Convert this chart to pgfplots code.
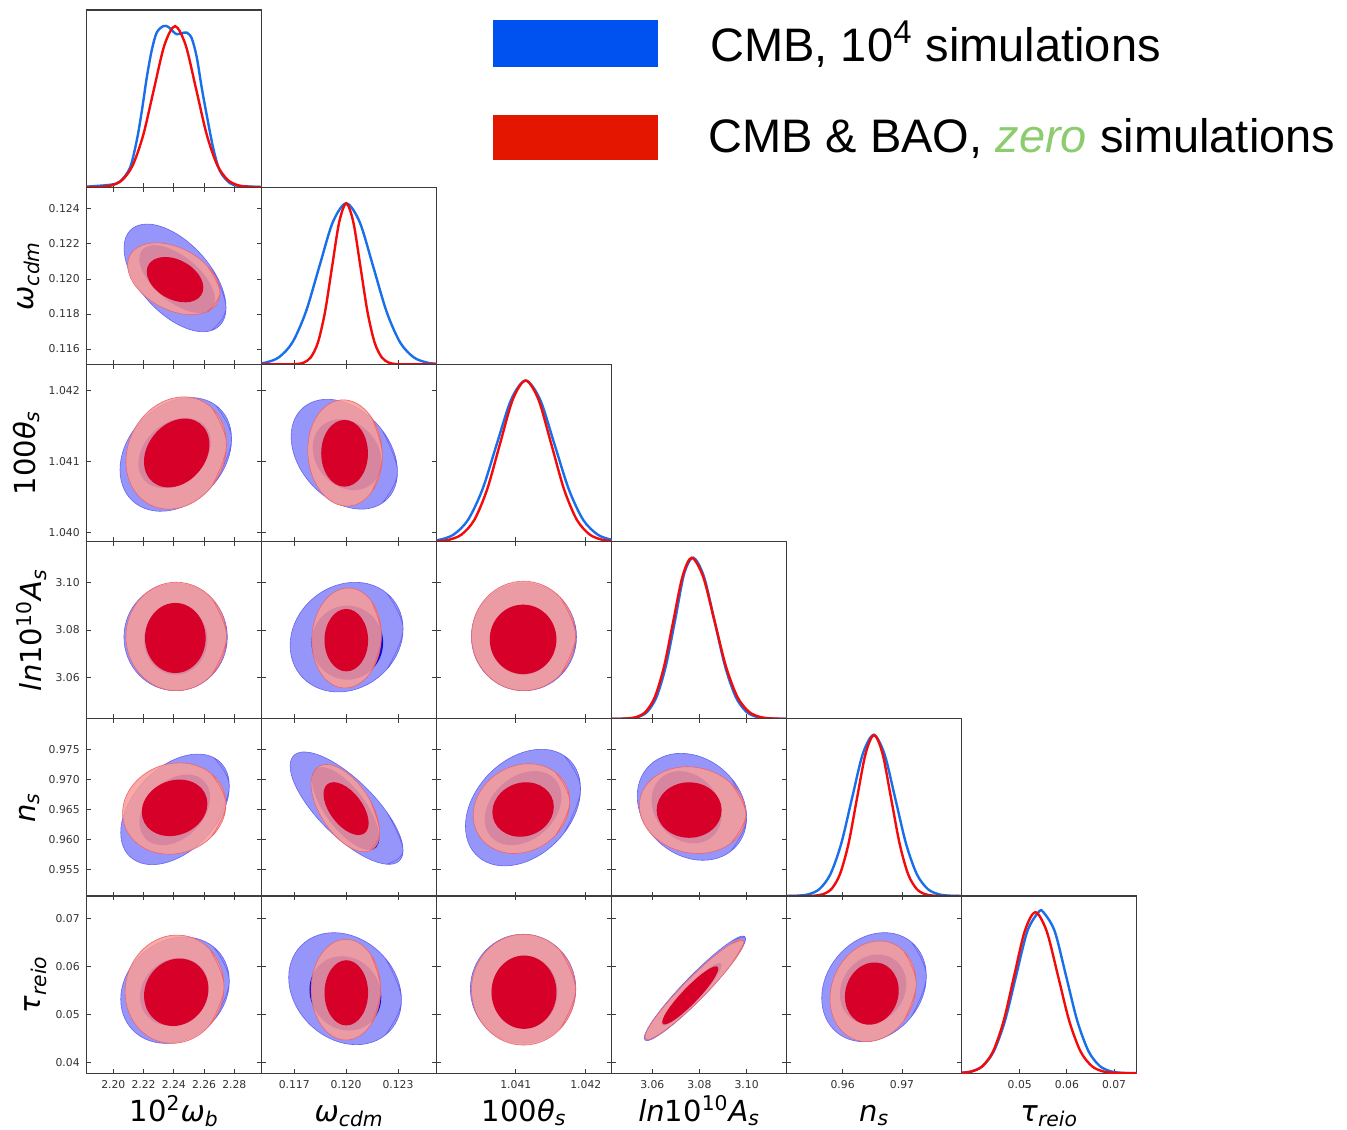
\documentclass[border=0pt]{standalone}
\usepackage{fontspec}
\setmainfont{DejaVu Sans}
\newfontfamily\legfont{Liberation Sans}
\usepackage{pgfplots}
\pgfplotsset{compat=1.18}
\definecolor{axgray}{RGB}{60,60,60}
\definecolor{tkgray}{RGB}{50,50,50}
\definecolor{cB2}{RGB}{150,150,250}
\definecolor{cB2l}{RGB}{100,100,240}
\definecolor{cB1}{RGB}{10,10,215}
\definecolor{cR2}{RGB}{250,156,150}
\definecolor{cR2l}{RGB}{235,100,110}
\definecolor{cR1}{RGB}{215,0,40}
\definecolor{lblue}{RGB}{25,110,235}
\definecolor{lred}{RGB}{245,10,10}
\definecolor{legblue}{RGB}{0,82,240}
\definecolor{legred}{RGB}{228,22,0}
\definecolor{zgreen}{RGB}{140,204,110}
\newcommand\lblfont{\fontsize{14.5}{17}\selectfont}
\newcommand\tkfont{\fontsize{5.4}{6.5}\selectfont}
\newcommand\tl[1]{\mbox{#1}}
\pgfplotsset{
  tri/.style={scale only axis, width=87.5pt, height=88.6pt, anchor=south west,
    axis line style={draw=axgray, line width=0.55pt},
    tick align=inside, major tick length=2.2pt,
    tick style={draw=axgray, line width=0.45pt},
    xtick pos=both, ytick pos=both, scaled ticks=false,
    xticklabels={}, yticklabels={},
    tick label style={font=\tkfont, text=tkgray},
    every axis x label/.style={at={(axis description cs:0.5,-0.27)}, anchor=base, font=\lblfont, inner sep=0pt},
    ylabel style={font=\lblfont, inner sep=1pt},
  },
  diag/.style={tri, ymin=0, ymax=1.1, ytick=\empty, xtick pos=left},
  X1/.style={xmin=2.1824, xmax=2.2981, xtick={2.20,2.22,2.24,2.26,2.28}},
  X2/.style={xmin=0.11512, xmax=0.12524, xtick={0.117,0.120,0.123}},
  X3/.style={xmin=1.03987, xmax=1.04237, xtick={1.041,1.042}},
  X4/.style={xmin=3.0428, xmax=3.1170, xtick={3.06,3.08,3.10}},
  X5/.style={xmin=0.95058, xmax=0.98006, xtick={0.96,0.97}},
  X6/.style={xmin=0.0377, xmax=0.0748, xtick={0.05,0.06,0.07}},
  Y2/.style={ymin=0.11512, ymax=0.12524, ytick={0.116,0.118,0.120,0.122,0.124}},
  Y3/.style={ymin=1.03987, ymax=1.04237, ytick={1.040,1.041,1.042}},
  Y4/.style={ymin=3.0428, ymax=3.1170, ytick={3.06,3.08,3.10}},
  Y5/.style={ymin=0.95058, ymax=0.98006, ytick={0.955,0.960,0.965,0.970,0.975}},
  Y6/.style={ymin=0.0377, ymax=0.0748, ytick={0.04,0.05,0.06,0.07}},
  b2/.style={fill=cB2, draw=cB2l, line width=0.3pt, smooth, tension=0.68},
  b1/.style={fill=cB1, draw=none, smooth, tension=0.68},
  r2/.style={fill=cR2, fill opacity=0.85, draw=cR2l, line width=0.3pt, smooth, tension=0.68},
  r1/.style={fill=cR1, draw=none, smooth, tension=0.68},
  lb/.style={draw=lblue, line width=1.2pt, smooth},
  lr/.style={draw=lred, line width=1.2pt, smooth},
}
\begin{document}
\begin{tikzpicture}
\useasboundingbox (0,0) rectangle (673.5pt,-564.5pt);

% ---------- Row 1 ----------
\begin{axis}[diag, X1, at={(43.35pt,-93.6pt)}]
\addplot[lb] coordinates {(2.1800,0.002) (2.1978,0.015) (2.2044,0.035) (2.2110,0.12) (2.2155,0.29) (2.2188,0.47) (2.2221,0.68) (2.2254,0.85) (2.2287,0.96) (2.2331,1.0) (2.2364,0.995) (2.2397,0.965) (2.2419,0.95) (2.2452,0.955) (2.2485,0.96) (2.2518,0.925) (2.2551,0.81) (2.2584,0.62) (2.2617,0.45) (2.2661,0.24) (2.2705,0.10) (2.2771,0.025) (2.2837,0.008) (2.3000,0.0005)};
\addplot[lr] coordinates {(2.1800,0) (2.1848,0.0003) (2.1918,0.0022) (2.1988,0.0111) (2.2058,0.0439) (2.2128,0.1353) (2.2198,0.3247) (2.2268,0.6065) (2.2338,0.8825) (2.2408,1) (2.2478,0.8825) (2.2548,0.6065) (2.2618,0.3247) (2.2688,0.1353) (2.2758,0.0439) (2.2828,0.0111) (2.2898,0.0022) (2.2968,0.0003) (2.3000,0)};
\end{axis}

% ---------- Row 2 ----------
\begin{axis}[tri, X1, Y2, at={(43.35pt,-182.2pt)}, yticklabels={\tl{0.116},\tl{0.118},\tl{0.120},\tl{0.122},\tl{0.124}}, ylabel={\textit{ω}\textsubscript{\textit{cdm}}}]
\addplot[b2] coordinates {(2.26463,0.117049) (2.27451,0.118368) (2.26463,0.120681) (2.2408,0.122629) (2.21697,0.123071) (2.20709,0.121752) (2.21697,0.119439) (2.2408,0.117491) (2.26463,0.117049) (2.27451,0.118368) (2.26463,0.120681)};
\addplot[b1] coordinates {(2.25987,0.118071) (2.26719,0.118827) (2.25987,0.120263) (2.2422,0.12154) (2.22453,0.121909) (2.21721,0.121153) (2.22453,0.119717) (2.2422,0.11844) (2.25987,0.118071) (2.26719,0.118827) (2.25987,0.120263)};
\addplot[r2] coordinates {(2.26159,0.118115) (2.27054,0.11923) (2.26159,0.1208) (2.24,0.121909) (2.21841,0.121905) (2.20946,0.12079) (2.21841,0.11922) (2.24,0.118111) (2.26159,0.118115) (2.27054,0.11923) (2.26159,0.1208)};
\addplot[r1] coordinates {(2.25403,0.118782) (2.25951,0.119507) (2.25403,0.120497) (2.2408,0.121172) (2.22757,0.121138) (2.22209,0.120413) (2.22757,0.119423) (2.2408,0.118748) (2.25403,0.118782) (2.25951,0.119507) (2.25403,0.120497)};
\end{axis}
\begin{axis}[diag, X2, at={(130.85pt,-182.2pt)}]
\addplot[lb] coordinates {(0.11377,0.0003) (0.11455,0.0022) (0.11533,0.0111) (0.11611,0.0439) (0.11689,0.1353) (0.11767,0.3247) (0.11845,0.6065) (0.11923,0.8825) (0.12001,1) (0.12079,0.8825) (0.12157,0.6065) (0.12235,0.3247) (0.12313,0.1353) (0.12391,0.0439) (0.12469,0.0111) (0.12547,0.0022) (0.12625,0.0003)};
\addplot[lr] coordinates {(0.11500,0) (0.11673,0.0003) (0.11714,0.0022) (0.11755,0.0111) (0.11796,0.0439) (0.11837,0.1353) (0.11878,0.3247) (0.11919,0.6065) (0.11960,0.8825) (0.12001,1) (0.12042,0.8825) (0.12083,0.6065) (0.12124,0.3247) (0.12165,0.1353) (0.12206,0.0439) (0.12247,0.0111) (0.12288,0.0022) (0.12329,0.0003) (0.12540,0)};
\end{axis}

% ---------- Row 3 ----------
\begin{axis}[tri, X1, Y3, at={(43.35pt,-270.8pt)}, yticklabels={\tl{1.040},\tl{1.041},\tl{1.042}}, ylabel={100\textit{θ}\textsubscript{\textit{s}}}]
\addplot[b2] coordinates {(2.26737,1.040707) (2.27818,1.041317) (2.26737,1.041799) (2.2413,1.041872) (2.21523,1.041493) (2.20442,1.040883) (2.21523,1.040401) (2.2413,1.040328) (2.26737,1.040707) (2.27818,1.041317) (2.26737,1.041799)};
\addplot[b1] coordinates {(2.25742,1.040891) (2.26443,1.041269) (2.25742,1.041559) (2.2405,1.041592) (2.22358,1.041349) (2.21657,1.040972) (2.22358,1.040681) (2.2405,1.040648) (2.25742,1.040891) (2.26443,1.041269) (2.25742,1.041559)};
\addplot[r2] coordinates {(2.26511,1.04065) (2.27485,1.041239) (2.26511,1.041758) (2.2416,1.041903) (2.21809,1.04159) (2.20835,1.041001) (2.21809,1.040482) (2.2416,1.040337) (2.26511,1.04065) (2.27485,1.041239) (2.26511,1.041758)};
\addplot[r1] coordinates {(2.25718,1.040874) (2.26351,1.041241) (2.25718,1.041538) (2.2419,1.04159) (2.22662,1.041366) (2.22029,1.040999) (2.22662,1.040702) (2.2419,1.04065) (2.25718,1.040874) (2.26351,1.041241) (2.25718,1.041538)};
\end{axis}
\begin{axis}[tri, X2, Y3, at={(130.85pt,-270.8pt)}]
\addplot[b2] coordinates {(0.122069,1.040409) (0.12297,1.040855) (0.122069,1.041447) (0.119896,1.041837) (0.117723,1.041797) (0.116822,1.041351) (0.117723,1.040759) (0.119896,1.040369) (0.122069,1.040409) (0.12297,1.040855) (0.122069,1.041447)};
\addplot[b1] coordinates {(0.121461,1.040679) (0.122042,1.040996) (0.121461,1.041372) (0.120058,1.041586) (0.118655,1.041513) (0.118074,1.041196) (0.118655,1.04082) (0.120058,1.040606) (0.121461,1.040679) (0.122042,1.040996) (0.121461,1.041372)};
\addplot[r2] coordinates {(0.121468,1.040563) (0.1221,1.041083) (0.121468,1.041623) (0.119942,1.041869) (0.118416,1.041677) (0.117784,1.041158) (0.118416,1.040617) (0.119942,1.040371) (0.121468,1.040563) (0.1221,1.041083) (0.121468,1.041623)};
\addplot[r1] coordinates {(0.120868,1.040783) (0.121264,1.041116) (0.120868,1.041449) (0.119913,1.041587) (0.118958,1.041449) (0.118562,1.041116) (0.118958,1.040783) (0.119913,1.040645) (0.120868,1.040783) (0.121264,1.041116) (0.120868,1.041449)};
\end{axis}
\begin{axis}[diag, X3, at={(218.35pt,-270.8pt)}]
\addplot[lb] coordinates {(1.039496,0.0003) (1.039702,0.0022) (1.039907,0.0111) (1.040113,0.0439) (1.040318,0.1353) (1.040524,0.3247) (1.040729,0.6065) (1.040935,0.8825) (1.04114,1) (1.041346,0.8825) (1.041551,0.6065) (1.041757,0.3247) (1.041962,0.1353) (1.042168,0.0439) (1.042373,0.0111) (1.042579,0.0022) (1.042784,0.0003)};
\addplot[lr] coordinates {(1.039676,0.0003) (1.039859,0.0022) (1.040042,0.0111) (1.040225,0.0439) (1.040408,0.1353) (1.040591,0.3247) (1.040774,0.6065) (1.040957,0.8825) (1.04114,1) (1.041323,0.8825) (1.041506,0.6065) (1.041689,0.3247) (1.041872,0.1353) (1.042055,0.0439) (1.042238,0.0111) (1.042421,0.0022) (1.042604,0.0003)};
\end{axis}

% ---------- Row 4 ----------
\begin{axis}[tri, X1, Y4, at={(43.35pt,-359.4pt)}, yticklabels={\tl{3.06},\tl{3.08},\tl{3.10}}, ylabel={\textit{ln}10\textsuperscript{10}\textit{A}\textsubscript{\textit{s}}}]
\addplot[b2] coordinates {(2.26536,3.06115) (2.27537,3.077) (2.26536,3.09285) (2.2412,3.09942) (2.21704,3.09285) (2.20703,3.077) (2.21704,3.06115) (2.2412,3.05458) (2.26536,3.06115) (2.27537,3.077) (2.26536,3.09285)};
\addplot[b1] coordinates {(2.25601,3.06557) (2.26215,3.07594) (2.25601,3.08631) (2.2412,3.09061) (2.22639,3.08631) (2.22025,3.07594) (2.22639,3.06557) (2.2412,3.06127) (2.25601,3.06557) (2.26215,3.07594) (2.25601,3.08631)};
\addplot[r2] coordinates {(2.26511,3.06122) (2.27485,3.07728) (2.26511,3.09334) (2.2416,3.09999) (2.21809,3.09334) (2.20835,3.07728) (2.21809,3.06122) (2.2416,3.05457) (2.26511,3.06122) (2.27485,3.07728) (2.26511,3.09334)};
\addplot[r1] coordinates {(2.25516,3.06628) (2.26103,3.07665) (2.25516,3.08702) (2.241,3.09132) (2.22684,3.08702) (2.22097,3.07665) (2.22684,3.06628) (2.241,3.06198) (2.25516,3.06628) (2.26103,3.07665) (2.25516,3.08702)};
\end{axis}
\begin{axis}[tri, X2, Y4, at={(130.85pt,-359.4pt)}]
\addplot[b2] coordinates {(0.122337,3.06338) (0.123294,3.08044) (0.122337,3.09548) (0.120029,3.0997) (0.117721,3.09062) (0.116764,3.07356) (0.117721,3.05852) (0.120029,3.0543) (0.122337,3.06338) (0.123294,3.08044) (0.122337,3.09548)};
\addplot[b1] coordinates {(0.121534,3.06372) (0.122141,3.07468) (0.121534,3.08564) (0.12007,3.09018) (0.118606,3.08564) (0.117999,3.07468) (0.118606,3.06372) (0.12007,3.05918) (0.121534,3.06372) (0.122141,3.07468) (0.121534,3.08564)};
\addplot[r2] coordinates {(0.121452,3.06259) (0.122042,3.0777) (0.121452,3.09219) (0.120029,3.09757) (0.118606,3.09071) (0.118016,3.0756) (0.118606,3.06111) (0.120029,3.05573) (0.121452,3.06259) (0.122042,3.0777) (0.121452,3.09219)};
\addplot[r1] coordinates {(0.120902,3.06649) (0.121271,3.07573) (0.120902,3.08497) (0.120012,3.0888) (0.119122,3.08497) (0.118753,3.07573) (0.119122,3.06649) (0.120012,3.06266) (0.120902,3.06649) (0.121271,3.07573) (0.120902,3.08497)};
\end{axis}
\begin{axis}[tri, X3, Y4, at={(218.35pt,-359.4pt)}]
\addplot[b2] coordinates {(1.041647,3.06117) (1.041867,3.07711) (1.041647,3.09305) (1.041117,3.09965) (1.040587,3.09305) (1.040367,3.07711) (1.040587,3.06117) (1.041117,3.05457) (1.041647,3.06117) (1.041867,3.07711) (1.041647,3.09305)};
\addplot[b1] coordinates {(1.041441,3.06557) (1.04158,3.07594) (1.041441,3.08631) (1.041104,3.09061) (1.040767,3.08631) (1.040628,3.07594) (1.040767,3.06557) (1.041104,3.06127) (1.041441,3.06557) (1.04158,3.07594) (1.041441,3.08631)};
\addplot[r2] coordinates {(1.041635,3.06129) (1.041853,3.07749) (1.041635,3.09369) (1.04111,3.10041) (1.040585,3.09369) (1.040367,3.07749) (1.040585,3.06129) (1.04111,3.05457) (1.041635,3.06129) (1.041853,3.07749) (1.041635,3.09369)};
\addplot[r1] coordinates {(1.041441,3.06578) (1.04158,3.07606) (1.041441,3.08634) (1.041104,3.0906) (1.040767,3.08634) (1.040628,3.07606) (1.040767,3.06578) (1.041104,3.06152) (1.041441,3.06578) (1.04158,3.07606) (1.041441,3.08634)};
\end{axis}
\begin{axis}[diag, X4, at={(305.85pt,-359.4pt)}]
\addplot[lb] coordinates {(3.0420,0) (3.0462,0.0003) (3.0501,0.0022) (3.0540,0.0111) (3.0579,0.0439) (3.0618,0.1353) (3.0657,0.3247) (3.0696,0.6065) (3.0735,0.90) (3.0774,1) (3.0819,0.8825) (3.0864,0.6065) (3.0909,0.3247) (3.0954,0.1353) (3.0999,0.0439) (3.1044,0.0111) (3.1089,0.0022) (3.1134,0.0003) (3.1180,0)};
\addplot[lr] coordinates {(3.0420,0) (3.0455,0.0003) (3.0494,0.0022) (3.0533,0.0111) (3.0572,0.0439) (3.0611,0.1353) (3.0650,0.3247) (3.0689,0.6065) (3.0728,0.8825) (3.0767,1) (3.08155,0.8825) (3.0864,0.6065) (3.09125,0.3247) (3.0961,0.1353) (3.10095,0.0439) (3.1058,0.0111) (3.11065,0.0022) (3.1155,0.0003) (3.1180,0)};
\end{axis}

% ---------- Row 5 ----------
\begin{axis}[tri, X1, Y5, at={(43.35pt,-448pt)}, yticklabels={\tl{0.955},\tl{0.960},\tl{0.965},\tl{0.970},\tl{0.975}}, ylabel={\textit{n}\textsubscript{\textit{s}}}]
\addplot[b2] coordinates {(2.26617,0.961828) (2.27669,0.968862) (2.26617,0.973634) (2.2408,0.973344) (2.21543,0.968172) (2.20491,0.961138) (2.21543,0.956366) (2.2408,0.956656) (2.26617,0.961828) (2.27669,0.968862) (2.26617,0.973634)};
\addplot[b1] coordinates {(2.25709,0.962483) (2.26393,0.966976) (2.25709,0.970264) (2.2406,0.970421) (2.22411,0.967357) (2.21727,0.962864) (2.22411,0.959576) (2.2406,0.959419) (2.25709,0.962483) (2.26393,0.966976) (2.25709,0.970264)};
\addplot[r2] coordinates {(2.26446,0.960319) (2.27447,0.96589) (2.26446,0.971013) (2.2403,0.972693) (2.21614,0.969941) (2.20613,0.96437) (2.21614,0.959247) (2.2403,0.957567) (2.26446,0.960319) (2.27447,0.96589) (2.26446,0.971013)};
\addplot[r1] coordinates {(2.25583,0.962464) (2.26218,0.965955) (2.25583,0.969032) (2.2405,0.969895) (2.22517,0.968036) (2.21882,0.964545) (2.22517,0.961468) (2.2405,0.960605) (2.25583,0.962464) (2.26218,0.965955) (2.25583,0.969032)};
\end{axis}
\begin{axis}[tri, X2, Y5, at={(130.85pt,-448pt)}]
\addplot[b2] coordinates {(0.122337,0.955873) (0.123294,0.95819) (0.122337,0.964611) (0.120029,0.971381) (0.117721,0.974527) (0.116764,0.97221) (0.117721,0.965789) (0.120029,0.959019) (0.122337,0.955873) (0.123294,0.95819) (0.122337,0.964611)};
\addplot[b1] coordinates {(0.121349,0.958226) (0.12192,0.960294) (0.121349,0.965189) (0.119971,0.970044) (0.118593,0.972014) (0.118022,0.969946) (0.118593,0.965051) (0.119971,0.960196) (0.121349,0.958226) (0.12192,0.960294) (0.121349,0.965189)};
\addplot[r2] coordinates {(0.121362,0.958087) (0.121943,0.961204) (0.121362,0.966668) (0.119959,0.971269) (0.118556,0.972313) (0.117975,0.969196) (0.118556,0.963732) (0.119959,0.959131) (0.121362,0.958087) (0.121943,0.961204) (0.121362,0.966668)};
\addplot[r1] coordinates {(0.120923,0.960816) (0.121305,0.962702) (0.120923,0.966008) (0.12,0.968792) (0.119077,0.969424) (0.118695,0.967538) (0.119077,0.964232) (0.12,0.961448) (0.120923,0.960816) (0.121305,0.962702) (0.120923,0.966008)};
\end{axis}
\begin{axis}[tri, X3, Y5, at={(218.35pt,-448pt)}]
\addplot[b2] coordinates {(1.041684,0.960984) (1.041925,0.968394) (1.041684,0.97398) (1.041103,0.974479) (1.040522,0.969596) (1.040281,0.962186) (1.040522,0.9566) (1.041103,0.956101) (1.041684,0.960984) (1.041925,0.968394) (1.041684,0.97398)};
\addplot[b1] coordinates {(1.041491,0.962355) (1.041651,0.967047) (1.041491,0.970662) (1.041104,0.971074) (1.040717,0.968045) (1.040557,0.963353) (1.040717,0.959738) (1.041104,0.959326) (1.041491,0.962355) (1.041651,0.967047) (1.041491,0.970662)};
\addplot[r2] coordinates {(1.041569,0.960692) (1.041771,0.96624) (1.041569,0.971131) (1.041081,0.972503) (1.040593,0.969548) (1.040391,0.964) (1.040593,0.959109) (1.041081,0.957737) (1.041569,0.960692) (1.041771,0.96624) (1.041569,0.971131)};
\addplot[r1] coordinates {(1.041414,0.962102) (1.041543,0.965423) (1.041414,0.968477) (1.041104,0.969478) (1.040794,0.967838) (1.040665,0.964517) (1.040794,0.961463) (1.041104,0.960462) (1.041414,0.962102) (1.041543,0.965423) (1.041414,0.968477)};
\end{axis}
\begin{axis}[tri, X4, Y5, at={(305.85pt,-448pt)}]
\addplot[b2] coordinates {(3.09322,0.958003) (3.10001,0.963641) (3.09322,0.97032) (3.07682,0.974135) (3.06042,0.972837) (3.05363,0.967199) (3.06042,0.96052) (3.07682,0.956705) (3.09322,0.958003) (3.10001,0.963641) (3.09322,0.97032)};
\addplot[b1] coordinates {(3.08506,0.96033) (3.08941,0.964139) (3.08506,0.96865) (3.07457,0.971227) (3.06408,0.97035) (3.05973,0.966541) (3.06408,0.96203) (3.07457,0.959453) (3.08506,0.96033) (3.08941,0.964139) (3.08506,0.96865)};
\addplot[r2] coordinates {(3.0931,0.959286) (3.09972,0.964148) (3.0931,0.969437) (3.07712,0.972049) (3.06114,0.970454) (3.05452,0.965592) (3.06114,0.960303) (3.07712,0.957691) (3.0931,0.959286) (3.09972,0.964148) (3.0931,0.969437)};
\addplot[r1] coordinates {(3.08537,0.961617) (3.08941,0.96488) (3.08537,0.968143) (3.07563,0.969495) (3.06589,0.968143) (3.06185,0.96488) (3.06589,0.961617) (3.07563,0.960265) (3.08537,0.961617) (3.08941,0.96488) (3.08537,0.968143)};
\end{axis}
\begin{axis}[diag, X5, at={(393.35pt,-448pt)}]
\addplot[lb] coordinates {(0.9500,0) (0.95066,0.0003) (0.95248,0.0022) (0.9543,0.0111) (0.95612,0.0439) (0.95794,0.1353) (0.95976,0.3247) (0.96158,0.6065) (0.9634,0.8825) (0.96522,1) (0.96704,0.8825) (0.96886,0.6065) (0.97068,0.3247) (0.9725,0.1353) (0.97432,0.0439) (0.97614,0.0111) (0.97796,0.0022) (0.97978,0.0003) (0.9805,0)};
\addplot[lr] coordinates {(0.9500,0) (0.95381,0.0003) (0.95525,0.0022) (0.95668,0.0111) (0.95812,0.0439) (0.95955,0.1353) (0.96099,0.3247) (0.96242,0.6065) (0.96386,0.8825) (0.96529,1) (0.96673,0.8825) (0.96816,0.6065) (0.9696,0.3247) (0.97103,0.1353) (0.97247,0.0439) (0.9739,0.0111) (0.97534,0.0022) (0.97677,0.0003) (0.9805,0)};
\end{axis}

% ---------- Row 6 ----------
\begin{axis}[tri, X1, Y6, at={(43.35pt,-536.6pt)}, yticklabels={\tl{0.04},\tl{0.05},\tl{0.06},\tl{0.07}}, xticklabels={\tl{2.20},\tl{2.22},\tl{2.24},\tl{2.26},\tl{2.28}}, ylabel={\textit{τ}\textsubscript{\textit{reio}}}, xlabel={10\textsuperscript{2}\textit{ω}\textsubscript{\textit{b}}}]
\addplot[b2] coordinates {(2.26617,0.048669) (2.27669,0.056972) (2.26617,0.064173) (2.2408,0.066043) (2.21543,0.061491) (2.20491,0.053188) (2.21543,0.045987) (2.2408,0.044117) (2.26617,0.048669) (2.27669,0.056972) (2.26617,0.064173)};
\addplot[b1] coordinates {(2.25629,0.050573) (2.26291,0.055819) (2.25629,0.060443) (2.2403,0.06174) (2.22431,0.058947) (2.21769,0.053701) (2.22431,0.049077) (2.2403,0.04778) (2.25629,0.050573) (2.26291,0.055819) (2.25629,0.060443)};
\addplot[r2] coordinates {(2.26363,0.047681) (2.27322,0.055857) (2.26363,0.063704) (2.2405,0.066615) (2.21737,0.062899) (2.20778,0.054723) (2.21737,0.046876) (2.2405,0.043965) (2.26363,0.047681) (2.27322,0.055857) (2.26363,0.063704)};
\addplot[r1] coordinates {(2.25664,0.050171) (2.26288,0.055346) (2.25664,0.060104) (2.2416,0.061665) (2.22656,0.059109) (2.22032,0.053934) (2.22656,0.049176) (2.2416,0.047615) (2.25664,0.050171) (2.26288,0.055346) (2.25664,0.060104)};
\end{axis}
\begin{axis}[tri, X2, Y6, at={(130.85pt,-536.6pt)}, xticklabels={\tl{0.117},\tl{0.120},\tl{0.123}}, xlabel={\textit{ω}\textsubscript{\textit{cdm}}}]
\addplot[b2] coordinates {(0.122247,0.045626) (0.123202,0.053056) (0.122247,0.061858) (0.119942,0.066886) (0.117637,0.065174) (0.116682,0.057744) (0.117637,0.048942) (0.119942,0.043914) (0.122247,0.045626) (0.123202,0.053056) (0.122247,0.061858)};
\addplot[b1] coordinates {(0.121427,0.048398) (0.122035,0.053642) (0.121427,0.059345) (0.119959,0.062161) (0.118491,0.060442) (0.117883,0.055198) (0.118491,0.049495) (0.119959,0.046679) (0.121427,0.048398) (0.122035,0.053642) (0.121427,0.059345)};
\addplot[r2] coordinates {(0.121411,0.047738) (0.122001,0.05519) (0.121411,0.062642) (0.119988,0.06573) (0.118565,0.062642) (0.117975,0.05519) (0.118565,0.047738) (0.119988,0.04465) (0.121411,0.047738) (0.122001,0.05519) (0.121411,0.062642)};
\addplot[r1] coordinates {(0.120902,0.049701) (0.121271,0.05453) (0.120902,0.059359) (0.120012,0.06136) (0.119122,0.059359) (0.118753,0.05453) (0.119122,0.049701) (0.120012,0.0477) (0.120902,0.049701) (0.121271,0.05453) (0.120902,0.059359)};
\end{axis}
\begin{axis}[tri, X3, Y6, at={(218.35pt,-536.6pt)}, xticklabels={\tl{1.041},\tl{1.042}}, xlabel={100\textit{θ}\textsubscript{\textit{s}}}]
\addplot[b2] coordinates {(1.041636,0.047313) (1.041857,0.05538) (1.041636,0.063447) (1.041104,0.06679) (1.040572,0.063447) (1.040351,0.05538) (1.040572,0.047313) (1.041104,0.04397) (1.041636,0.047313) (1.041857,0.05538) (1.041636,0.063447)};
\addplot[b1] coordinates {(1.041458,0.049374) (1.041596,0.05474) (1.041458,0.060106) (1.041124,0.06233) (1.04079,0.060106) (1.040652,0.05474) (1.04079,0.049374) (1.041124,0.04715) (1.041458,0.049374) (1.041596,0.05474) (1.041458,0.060106)};
\addplot[r2] coordinates {(1.041635,0.046989) (1.041853,0.05519) (1.041635,0.063391) (1.04111,0.06679) (1.040585,0.063391) (1.040367,0.05519) (1.040585,0.046989) (1.04111,0.04359) (1.041635,0.046989) (1.041853,0.05519) (1.041635,0.063391)};
\addplot[r1] coordinates {(1.041445,0.049237) (1.041581,0.05466) (1.041445,0.060083) (1.041117,0.06233) (1.040789,0.060083) (1.040653,0.05466) (1.040789,0.049237) (1.041117,0.04699) (1.041445,0.049237) (1.041581,0.05466) (1.041445,0.060083)};
\end{axis}
\begin{axis}[tri, X4, Y6, at={(305.85pt,-536.6pt)}, xticklabels={\tl{3.06},\tl{3.08},\tl{3.10}}, xlabel={\textit{ln}10\textsuperscript{10}\textit{A}\textsubscript{\textit{s}}}]
\addplot[b2] coordinates {(3.09329,0.060423) (3.09959,0.065892) (3.09329,0.065256) (3.07809,0.058902) (3.06289,0.050537) (3.05659,0.045068) (3.06289,0.045704) (3.07809,0.052058) (3.09329,0.060423) (3.09959,0.065892) (3.09329,0.065256)};
\addplot[b1] coordinates {(3.08568,0.056829) (3.08941,0.060303) (3.08568,0.060218) (3.07669,0.05663) (3.0677,0.051631) (3.06397,0.048157) (3.0677,0.048242) (3.07669,0.05183) (3.08568,0.056829) (3.08941,0.060303) (3.08568,0.060218)};
\addplot[r2] coordinates {(3.09272,0.059961) (3.09887,0.065196) (3.09272,0.064587) (3.07788,0.058505) (3.06304,0.050499) (3.05689,0.045264) (3.06304,0.045873) (3.07788,0.051955) (3.09272,0.059961) (3.09887,0.065196) (3.09272,0.064587)};
\addplot[r1] coordinates {(3.08449,0.056268) (3.08797,0.059594) (3.08449,0.059642) (3.0761,0.056383) (3.06771,0.051732) (3.06423,0.048406) (3.06771,0.048358) (3.0761,0.051617) (3.08449,0.056268) (3.08797,0.059594) (3.08449,0.059642)};
\end{axis}
\begin{axis}[tri, X5, Y6, at={(393.35pt,-536.6pt)}, xticklabels={\tl{0.96},\tl{0.97}}, xlabel={\textit{n}\textsubscript{\textit{s}}}]
\addplot[b2] coordinates {(0.971519,0.049433) (0.9741,0.058002) (0.971519,0.065236) (0.96529,0.066902) (0.959061,0.062007) (0.95648,0.053438) (0.959061,0.046204) (0.96529,0.044538) (0.971519,0.049433) (0.9741,0.058002) (0.971519,0.065236)};
\addplot[b1] coordinates {(0.969081,0.051001) (0.970718,0.056388) (0.969081,0.061136) (0.96513,0.062468) (0.961179,0.059599) (0.959542,0.054212) (0.961179,0.049464) (0.96513,0.048132) (0.969081,0.051001) (0.970718,0.056388) (0.969081,0.061136)};
\addplot[r2] coordinates {(0.970267,0.0486) (0.972396,0.056431) (0.970267,0.063335) (0.96513,0.065271) (0.959993,0.0611) (0.957864,0.053269) (0.959993,0.046365) (0.96513,0.044429) (0.970267,0.0486) (0.972396,0.056431) (0.970267,0.063335)};
\addplot[r1] coordinates {(0.968123,0.050247) (0.969451,0.055033) (0.968123,0.059434) (0.96492,0.060877) (0.961717,0.058513) (0.960389,0.053727) (0.961717,0.049326) (0.96492,0.047883) (0.968123,0.050247) (0.969451,0.055033) (0.968123,0.059434)};
\end{axis}
\begin{axis}[diag, X6, at={(480.85pt,-536.6pt)}, xticklabels={\tl{0.05},\tl{0.06},\tl{0.07}}, xlabel={\textit{τ}\textsubscript{\textit{reio}}}]
\addplot[lb] coordinates {(0.03496,0.0003) (0.03734,0.0022) (0.03972,0.0111) (0.0421,0.0439) (0.04448,0.1353) (0.04686,0.3247) (0.04924,0.6065) (0.05162,0.8825) (0.0540,1) (0.0550,1) (0.0574,0.8825) (0.0598,0.6065) (0.0622,0.3247) (0.0646,0.1353) (0.067,0.0439) (0.0694,0.0111) (0.0718,0.0022) (0.0742,0.0003) (0.0750,0)};
\addplot[lr] coordinates {(0.03539,0.0003) (0.03763,0.0022) (0.03987,0.0111) (0.04211,0.0439) (0.04435,0.1353) (0.04659,0.3247) (0.04883,0.6065) (0.05107,0.8825) (0.05331,1) (0.0557,0.8825) (0.0581,0.6065) (0.06049,0.3247) (0.06289,0.1353) (0.06529,0.0439) (0.06768,0.0111) (0.07008,0.0022) (0.07247,0.0003) (0.0750,0)};
\end{axis}

% ---------- Legend ----------
\fill[legblue] (246.5pt,-10pt) rectangle (329pt,-33.5pt);
\fill[legred] (246.5pt,-57.5pt) rectangle (329pt,-80pt);
\node[anchor=base west, inner sep=0pt, font=\legfont\fontsize{23.5}{28}\selectfont] at (355pt,-31pt) {CMB, 10\textsuperscript{4} simulations};
\node[anchor=base west, inner sep=0pt, font=\legfont\fontsize{23.5}{28}\selectfont] at (354pt,-76pt) {CMB \& BAO, \textcolor{zgreen}{\textit{zero}} simulations};
\end{tikzpicture}
\end{document}
